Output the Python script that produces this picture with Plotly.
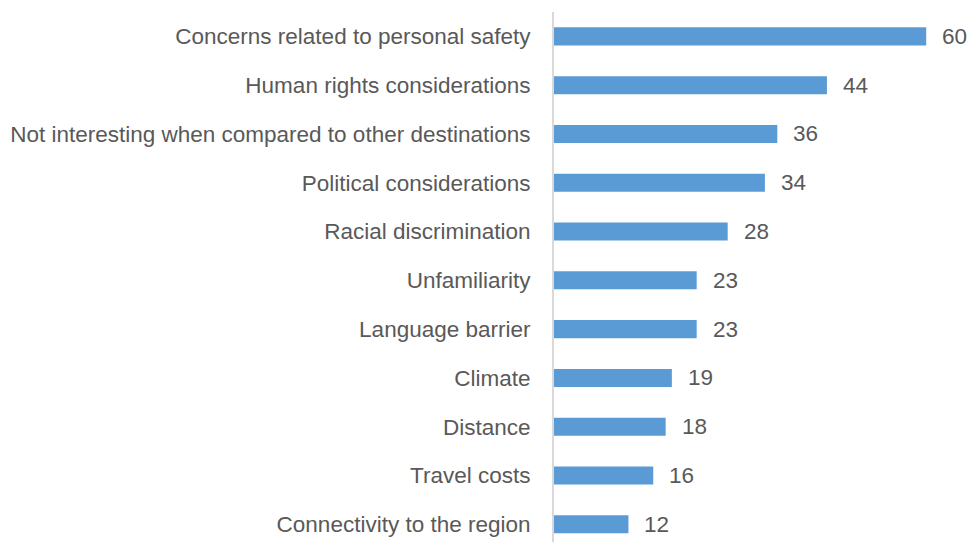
import plotly.graph_objects as go

categories = [
    "Concerns related to personal safety",
    "Human rights considerations",
    "Not interesting when compared to other destinations",
    "Political considerations",
    "Racial discrimination",
    "Unfamiliarity",
    "Language barrier",
    "Climate",
    "Distance",
    "Travel costs",
    "Connectivity to the region",
]
values = [60, 44, 36, 34, 28, 23, 23, 19, 18, 16, 12]

FONT = "Liberation Sans, Arial, sans-serif"
TEXT_COLOR = "#595959"
FS = 22.5

fig = go.Figure()
fig.add_trace(go.Bar(
    x=values,
    y=categories,
    orientation="h",
    marker=dict(color="#5B9BD5", line=dict(width=0)),
    hoverinfo="skip",
))

for c, v in zip(categories, values):
    fig.add_annotation(
        x=v, y=c, text=str(v), showarrow=False,
        xanchor="left", yanchor="middle", xshift=14,
        font=dict(family=FONT, size=FS, color=TEXT_COLOR),
    )

fig.update_layout(
    width=969, height=542,
    margin=dict(l=554, r=0, t=12, b=0),
    paper_bgcolor="white", plot_bgcolor="white",
    showlegend=False,
    bargap=0.63,
    font=dict(family=FONT, size=FS, color=TEXT_COLOR),
    xaxis=dict(range=[0, 66.9], visible=False, showgrid=False, zeroline=False),
    yaxis=dict(
        range=[10.363, -0.5],
        showline=True, linecolor="#d9d9d9", linewidth=2,
        showgrid=False, zeroline=False, ticks="",
        ticklabelstandoff=17,
        tickfont=dict(family=FONT, size=FS, color=TEXT_COLOR),
        automargin=False,
    ),
)

fig.write_html(
    "out.html",
    config={"displayModeBar": False},
    post_script="document.body.style.margin='0';document.body.style.overflow='hidden';",
)
